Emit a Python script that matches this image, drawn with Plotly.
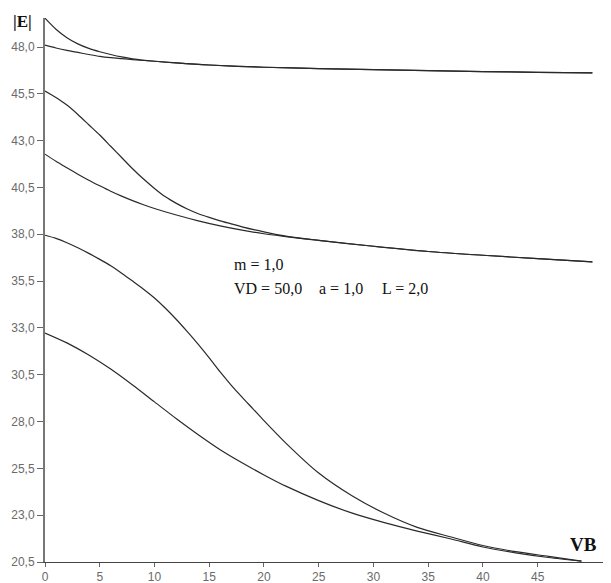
import plotly.graph_objects as go

# ---- data (VB on x, |E| on y) ----
a_x = [0, 1, 2, 3, 4, 5, 6, 7, 8, 10, 12, 15, 20, 25, 30, 35, 40, 45, 50]
a_y = [49.54, 48.95, 48.5, 48.17, 47.93, 47.75, 47.6, 47.47, 47.37, 47.24, 47.15, 47.04, 46.92, 46.85, 46.79, 46.74, 46.69, 46.65, 46.62]

b_x = [0, 1, 2, 3, 4, 5, 6, 7, 8, 10, 12, 15, 20, 25, 30, 35, 40, 45, 50]
b_y = [48.1, 47.95, 47.82, 47.71, 47.6, 47.5, 47.43, 47.38, 47.33, 47.24, 47.15, 47.04, 46.92, 46.85, 46.79, 46.74, 46.69, 46.65, 46.62]

c_x = [0, 1, 2, 3, 4, 5, 6, 7, 8, 9, 10, 11, 12, 13, 14, 15, 16, 17, 18, 20, 22, 25, 30, 35, 40, 45, 50]
c_y = [45.65, 45.3, 44.9, 44.4, 43.85, 43.3, 42.7, 42.1, 41.5, 40.95, 40.45, 40.0, 39.65, 39.35, 39.1, 38.9, 38.72, 38.56, 38.4, 38.13, 37.9, 37.68, 37.36, 37.08, 36.88, 36.7, 36.53]

d_x = [0, 1, 2, 3, 4, 5, 6, 7, 8, 9, 10, 12, 14, 16, 18, 20, 22, 25, 30, 35, 40, 45, 50]
d_y = [42.28, 41.9, 41.55, 41.21, 40.89, 40.59, 40.3, 40.04, 39.8, 39.58, 39.38, 39.03, 38.72, 38.45, 38.22, 38.03, 37.88, 37.67, 37.36, 37.08, 36.88, 36.7, 36.53]

e_x = [0, 1, 2, 3, 4, 5, 6, 7, 8, 9, 10, 11, 12, 13, 14, 15, 16, 17, 18, 19, 20, 22, 25, 28, 31, 34, 37, 40, 43, 46, 49]
e_y = [37.95, 37.78, 37.55, 37.28, 36.98, 36.66, 36.32, 35.92, 35.5, 35.07, 34.6, 34.05, 33.45, 32.8, 32.12, 31.4, 30.65, 29.95, 29.3, 28.68, 28.05, 26.85, 25.25, 24.05, 23.1, 22.35, 21.85, 21.38, 21.05, 20.8, 20.55]

f_x = [0, 2, 4, 6, 8, 10, 12, 14, 16, 18, 20, 22, 25, 28, 31, 34, 37, 40, 43, 46, 49]
f_y = [32.73, 32.2, 31.55, 30.8, 29.95, 29.05, 28.15, 27.3, 26.5, 25.8, 25.15, 24.55, 23.78, 23.12, 22.6, 22.15, 21.74, 21.3, 20.99, 20.74, 20.55]

y_ticks = [20.5, 23.0, 25.5, 28.0, 30.5, 33.0, 35.5, 38.0, 40.5, 43.0, 45.5, 48.0]
y_tick_labels = ["20,5", "23,0", "25,5", "28,0", "30,5", "33,0", "35,5", "38,0", "40,5", "43,0", "45,5", "48,0"]
x_ticks = [0, 5, 10, 15, 20, 25, 30, 35, 40, 45]
x_tick_labels = [str(v) for v in x_ticks]

param_line1 = "m = 1,0"
param_line2_parts = ["VD = 50,0", "a = 1,0", "L = 2,0"]
y_title = "|E|"
x_title = "VB"

fig = go.Figure()
line_style = dict(color="#2a2a2a", width=1.2, shape="spline", smoothing=0.8)
for xs, ys in [(a_x, a_y), (b_x, b_y), (c_x, c_y), (d_x, d_y), (e_x, e_y), (f_x, f_y)]:
    fig.add_trace(go.Scatter(x=xs, y=ys, mode="lines", line=line_style,
                             showlegend=False, hoverinfo="skip", cliponaxis=True))

tick_font = dict(family="Liberation Sans, Arial, sans-serif", size=12, color="#6a6a6a")

# the page body has an 8px default margin, so the figure is sized/offset to compensate
fig.update_layout(
    width=603, height=575,
    margin=dict(l=37, r=0, t=10, b=21),
    paper_bgcolor="white", plot_bgcolor="white",
    showlegend=False,
    xaxis=dict(range=[0, 51.7], tickmode="array", tickvals=x_ticks, ticktext=x_tick_labels,
               showgrid=False, zeroline=False, showline=True, linecolor="#444444", linewidth=1,
               ticks="outside", ticklen=4, tickcolor="#666666", tickfont=tick_font,
               automargin=False, fixedrange=True),
    yaxis=dict(range=[20.5, 49.55], tickmode="array", tickvals=y_ticks, ticktext=y_tick_labels,
               showgrid=False, zeroline=False, showline=True, linecolor="#777777", linewidth=2,
               ticks="outside", ticklen=6, tickcolor="#666666", tickfont=tick_font,
               automargin=False, fixedrange=True),
)

serif = "Liberation Serif, Times New Roman, serif"
fig.add_annotation(x=17.1, y=36.4, xref="x", yref="y", text=param_line1, showarrow=False,
                   xanchor="left", yanchor="middle", font=dict(family=serif, size=16, color="#111111"))
for part, xpos in zip(param_line2_parts, [17.1, 24.84, 30.62]):
    fig.add_annotation(x=xpos, y=35.12, xref="x", yref="y", text=part, showarrow=False,
                       xanchor="left", yanchor="middle",
                       font=dict(family=serif, size=16, color="#111111"))
fig.add_annotation(x=-0.0406, y=0.994, xref="paper", yref="paper", text="<b>" + y_title + "</b>",
                   showarrow=False, xanchor="center", yanchor="middle",
                   font=dict(family=serif, size=17, color="#111111"))
fig.add_annotation(x=49.2, y=21.45, xref="x", yref="y", text="<b>" + x_title + "</b>",
                   showarrow=False, xanchor="center", yanchor="middle",
                   font=dict(family=serif, size=19, color="#111111"))

fig.write_html("out.html")
